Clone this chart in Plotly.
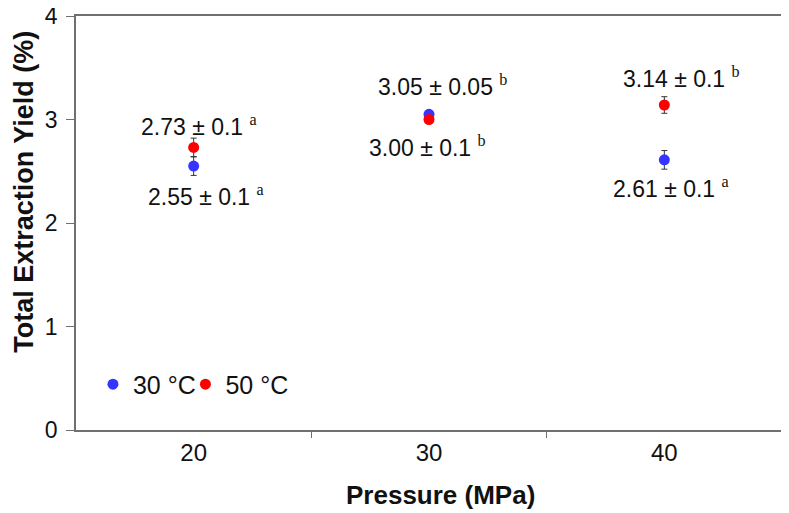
import plotly.graph_objects as go

pressure = [20, 30, 40]
yield_30C = [2.55, 3.05, 2.61]
err_30C = [0.09, 0.03, 0.09]
yield_50C = [2.73, 3.00, 3.14]
err_50C = [0.09, 0.03, 0.08]

labels_30C = ["2.55 ± 0.1", "3.05 ± 0.05", "2.61 ± 0.1"]
letters_30C = ["a", "b", "a"]
labels_50C = ["2.73 ± 0.1", "3.00 ± 0.1", "3.14 ± 0.1"]
letters_50C = ["a", "b", "b"]

FONT = "Liberation Sans, Arial, sans-serif"

fig = go.Figure()
fig.add_trace(go.Scatter(
    x=pressure, y=yield_30C, mode="markers", name="30 °C", legend="legend",
    marker=dict(color="#3535ff", size=11),
    error_y=dict(type="data", array=err_30C, color="#333333", thickness=1, width=3),
))
fig.add_trace(go.Scatter(
    x=pressure, y=yield_50C, mode="markers", name="50 °C", legend="legend2",
    marker=dict(color="#ff0000", size=11),
    error_y=dict(type="data", array=err_50C, color="#333333", thickness=1, width=3),
))

def sup(txt, letter):
    return "%s <sup><span style='font-family:Liberation Serif, Times New Roman, serif'>%s</span></sup>" % (txt, letter)

# label offsets in pixels from each point (x, y)
off_30C = [(12, -29), (13, 29), (7, -28)]
off_50C = [(5, 22), (-2, -27), (17, 28)]

for i, p in enumerate(pressure):
    for lab, let, val, off in ((labels_30C[i], letters_30C[i], yield_30C[i], off_30C[i]),
                               (labels_50C[i], letters_50C[i], yield_50C[i], off_50C[i])):
        fig.add_annotation(x=p, y=val, text=sup(lab, let), showarrow=False,
                           xshift=off[0], yshift=off[1],
                           font=dict(family=FONT, size=23, color="#111111"))

# axis titles (placed like the original, slightly off-centre)
fig.add_annotation(xref="paper", yref="paper", x=-0.074, y=0.575, textangle=-90,
                   text="<b>Total Extraction Yield (%)</b>", showarrow=False,
                   xanchor="center", yanchor="middle",
                   font=dict(family=FONT, size=27, color="#111111"))
fig.add_annotation(xref="paper", yref="paper", x=0.516, y=-0.157,
                   text="<b>Pressure (MPa)</b>", showarrow=False,
                   xanchor="center", yanchor="middle",
                   font=dict(family=FONT, size=26, color="#111111"))

leg = dict(orientation="h", y=0.11, xanchor="left", yanchor="middle",
           font=dict(size=25), bgcolor="rgba(0,0,0,0)", itemwidth=30)
fig.update_layout(
    width=776, height=505,
    margin=dict(l=68, r=2, t=8, b=83),
    paper_bgcolor="white", plot_bgcolor="white",
    font=dict(family=FONT, color="#111111"),
    showlegend=True,
    legend=dict(leg, x=0.024),
    legend2=dict(leg, x=0.155),
)
fig.update_xaxes(
    range=[15, 45], tickvals=pressure, ticks="", showgrid=False, zeroline=False,
    showline=True, linecolor="#707070", linewidth=1.5, mirror=True, automargin=False,
    tickfont=dict(size=24), ticklabeloverflow="allow",
    minor=dict(tickmode="array", tickvals=[25, 35, 45], ticks="outside", ticklen=6,
               tickcolor="#707070", showgrid=False),
)
fig.update_yaxes(
    range=[0, 4], tickvals=[0, 1, 2, 3, 4], ticks="outside", ticklen=8,
    tickcolor="#707070", showgrid=False, zeroline=False, automargin=False,
    showline=True, linecolor="#707070", linewidth=1.5, mirror=True,
    tickfont=dict(size=23), ticklabelstandoff=4, ticklabeloverflow="allow",
)

fig.write_html("out.html")
